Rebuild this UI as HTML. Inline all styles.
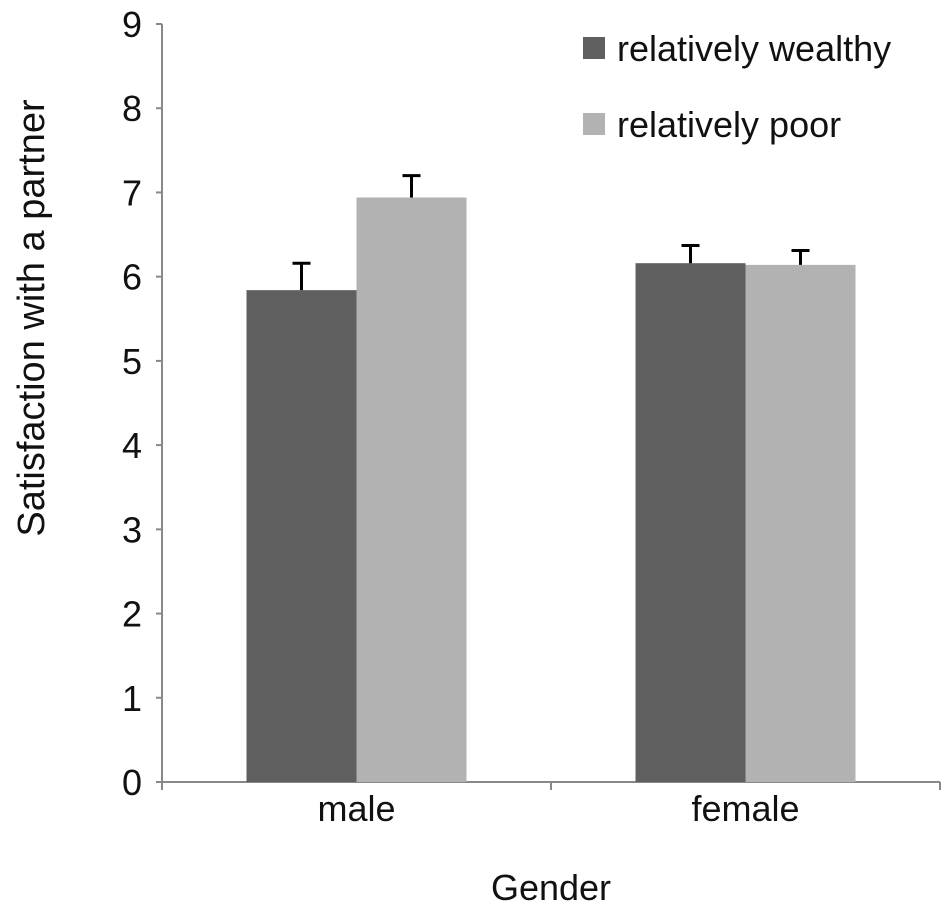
<!DOCTYPE html>
<html><head><meta charset="utf-8"><style>
body{margin:0;background:#fff}
text{font-family:"Liberation Sans",sans-serif;fill:#111}
</style></head><body>
<svg width="945" height="913">
<g id="g"></g>
</svg>
<script>
const categories=["male","female"];
const seriesNames=["relatively wealthy","relatively poor"];
const wealthy=[5.84,6.16];
const poor=[6.94,6.14];
const wealthyErr=[0.32,0.21];
const poorErr=[0.26,0.17];
const yTicks=[0,1,2,3,4,5,6,7,8,9];
const colors=["#5f5f5f","#b2b2b2"];
const NS="http://www.w3.org/2000/svg";
const g=document.getElementById('g');
const x0=162,x1=940,y0=782,yTop=24;
const y=v=>y0-(v/9)*(y0-yTop);
function el(t,a,txt){const e=document.createElementNS(NS,t);for(const k in a)e.setAttribute(k,a[k]);if(txt!==undefined)e.textContent=txt;g.appendChild(e);return e;}
let e;
e=el('line',{x1:x0,y1:y0,x2:x0,y2:yTop,stroke:'#888','stroke-width':2});


e=el('line',{x1:x0-6,y1:y0,x2:x1,y2:y0,stroke:'#888','stroke-width':2});


yTicks.forEach(t=>{
 e=el('line',{x1:x0-6,y1:y(t),x2:x0,y2:y(t),stroke:'#888','stroke-width':2});
 
 
 e=el('text',{x:142,y:y(t)+13,'font-size':36,'text-anchor':'end'},t);
 
 
});
const band=(x1-x0)/categories.length;
for(let i=0;i<=categories.length;i++){
 e=el('line',{x1:x0+i*band,y1:y0,x2:x0+i*band,y2:y0+8,stroke:'#888','stroke-width':2});
 
 
}
const bw=110;
const series=[wealthy,poor],errs=[wealthyErr,poorErr];
categories.forEach((c,i)=>{
 const cx=x0+band*(i+0.5);
 series.forEach((s,j)=>{
  const bx=cx-bw+j*bw;
  e=el('rect',{x:bx,y:y(s[i]),width:bw,height:y0-y(s[i]),fill:colors[j]});
  
  
  const ex=bx+bw/2,et=y(s[i]+errs[j][i]);
  e=el('path',{d:`M${ex},${y(s[i])}V${et}M${ex-9},${et}H${ex+9}`,stroke:'#000','stroke-width':3,fill:'none'});
  
  
 });
 e=el('text',{x:cx,y:821,'font-size':36,'text-anchor':'middle'},c);
 
 
});
seriesNames.forEach((n,j)=>{
 e=el('rect',{x:583,y:37+j*76,width:22,height:22,fill:colors[j]});
 
 
 e=el('text',{x:617,y:61+j*76,'font-size':36},n);
 
 
});
e=el('text',{x:551,y:900,'font-size':36,'text-anchor':'middle'},'Gender');


e=el('text',{x:0,y:0,'font-size':38,'text-anchor':'middle',transform:'translate(44,318) rotate(-90)'},'Satisfaction with a partner');


</script>
</body></html>
